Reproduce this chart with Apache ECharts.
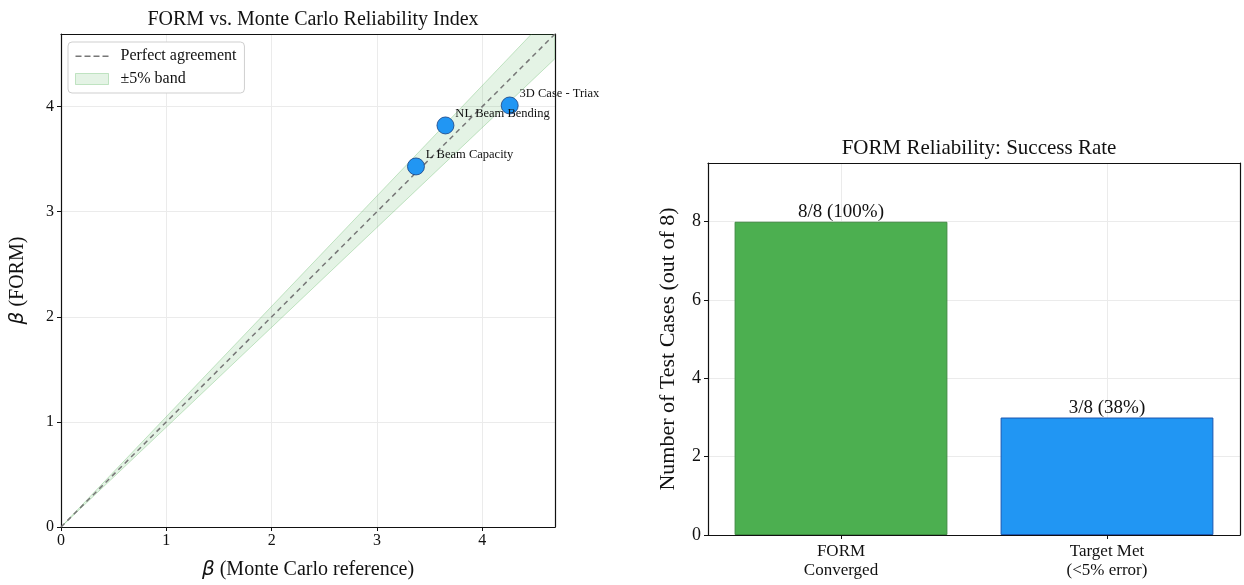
<!DOCTYPE html>
<html>
<head>
<meta charset="utf-8">
<script src="https://cdn.jsdelivr.net/npm/echarts@6/dist/echarts.min.js"></script>
<style>
  html, body { margin: 0; padding: 0; background: #fff; }
  #main { width: 1244px; height: 585px; }
</style>
</head>
<body>
<div id="main"></div>
<script>
// left panel: beta FORM vs beta Monte Carlo
var caseNames = ['L Beam Capacity', 'NL Beam Bending', '3D Case - Triax'];
var betaMC = [3.37, 3.65, 4.26];
var betaFORM = [3.43, 3.82, 4.01];
var axisMax = 4.69;
var refLine = [0, axisMax];
var bandPct = 0.05;

// right panel: success rate
var rateCats = ['FORM\nConverged', 'Target Met\n(<5% error)'];
var rateCounts = [8, 3];
var rateLabels = ['8/8 (100%)', '3/8 (38%)'];
var rateColors = ['#4caf50', '#2196f3'];
var rateEdges = ['#3d8b40', '#1a56b0'];

var FONT = 'Liberation Serif';
var myChart = echarts.init(document.getElementById('main'));

var scatterData = betaMC.map(function (x, i) {
  return { name: caseNames[i], value: [x, betaFORM[i]] };
});

// frame axis (top / right edge of each panel)
function frameAxis(gridIndex, type, pos, extra) {
  var a = {
    gridIndex: gridIndex, type: type, position: pos,
    axisLine: { show: true, onZero: false, lineStyle: { color: '#111', width: 1.2 } },
    axisTick: { show: false }, axisLabel: { show: false }, splitLine: { show: false }
  };
  return Object.assign(a, extra || {});
}

var dashIcon = 'path://M0,0h0.01v0.01h-0.01z M0,5h6v1.5h-6z M9,5h6v1.5h-6z M18,5h6v1.5h-6z M27,5h6v1.5h-6z M32.99,10.99h0.01v0.01h-0.01z';

var option = {
  backgroundColor: '#fff',
  textStyle: { fontFamily: FONT, color: '#111' },
  animation: false,
  title: [
    { text: 'FORM vs. Monte Carlo Reliability Index', left: 308, top: 5, textAlign: 'center',
      textStyle: { fontFamily: FONT, fontSize: 20, fontWeight: 'normal', color: '#111' } },
    { text: 'FORM Reliability: Success Rate', left: 974, top: 133, textAlign: 'center',
      textStyle: { fontFamily: FONT, fontSize: 21, fontWeight: 'normal', color: '#111' } }
  ],
  legend: {
    left: 68, top: 42,
    orient: 'vertical',
    backgroundColor: '#fff',
    borderColor: '#cfcfcf', borderWidth: 1, borderRadius: 4,
    padding: [6, 8, 6, 7],
    itemGap: 7, itemWidth: 33, itemHeight: 11,
    textStyle: { fontFamily: FONT, fontSize: 16, color: '#111', padding: [0, 0, 0, 7] },
    data: [
      { name: 'Perfect agreement', icon: dashIcon, itemStyle: { color: '#777' } },
      { name: '±5% band', icon: 'rect',
        itemStyle: { color: 'rgba(76,175,80,0.15)', borderColor: 'rgba(76,175,80,0.3)', borderWidth: 1 } }
    ]
  },
  grid: [
    { left: 61, right: 689, top: 34, bottom: 56 },
    { left: 708, right: 4, top: 163, bottom: 50 }
  ],
  xAxis: [
    { gridIndex: 0, type: 'value', min: 0, max: axisMax, interval: 1,
      axisLine: { show: true, onZero: false, lineStyle: { color: '#111', width: 1.2 } },
      axisTick: { show: true, length: 4, lineStyle: { color: '#111' } },
      axisLabel: { fontFamily: FONT, fontSize: 16, color: '#111', margin: 6, showMaxLabel: false },
      splitLine: { show: true, lineStyle: { color: '#ebebeb' } },
      name: '{b|β} (Monte Carlo reference)', nameLocation: 'middle', nameGap: 33,
      nameTextStyle: { fontFamily: FONT, fontSize: 20, color: '#111',
        rich: { b: { fontFamily: 'DejaVu Sans', fontStyle: 'italic', fontSize: 20 } } } },
    { gridIndex: 1, type: 'category', data: rateCats, boundaryGap: true,
      axisLine: { show: true, lineStyle: { color: '#111', width: 1.2 } },
      axisTick: { show: true, length: 4, alignWithLabel: true, lineStyle: { color: '#111' } },
      axisLabel: { fontFamily: FONT, fontSize: 17, color: '#111', margin: 7, lineHeight: 19 },
      splitLine: { show: true, alignWithLabel: true, lineStyle: { color: '#ebebeb' } } },
    frameAxis(0, 'value', 'top', { min: 0, max: axisMax }),
    frameAxis(1, 'value', 'top', { min: 0, max: 1 })
  ],
  yAxis: [
    { gridIndex: 0, type: 'value', min: 0, max: axisMax, interval: 1,
      axisLine: { show: true, onZero: false, lineStyle: { color: '#111', width: 1.2 } },
      axisTick: { show: true, length: 4, lineStyle: { color: '#111' } },
      axisLabel: { fontFamily: FONT, fontSize: 16, color: '#111', margin: 7, showMaxLabel: false },
      splitLine: { show: true, lineStyle: { color: '#ebebeb' } },
      name: '{b|β} (FORM)', nameLocation: 'middle', nameGap: 33,
      nameTextStyle: { fontFamily: FONT, fontSize: 20, color: '#111',
        rich: { b: { fontFamily: 'DejaVu Sans', fontStyle: 'italic', fontSize: 20 } } } },
    { gridIndex: 1, type: 'value', min: 0, max: 9.5, interval: 2,
      axisLine: { show: true, onZero: false, lineStyle: { color: '#111', width: 1.2 } },
      axisTick: { show: true, length: 4, lineStyle: { color: '#111' } },
      axisLabel: { fontFamily: FONT, fontSize: 18, color: '#111', margin: 7, showMaxLabel: false },
      splitLine: { show: true, lineStyle: { color: '#ebebeb' } },
      name: 'Number of Test Cases (out of 8)', nameLocation: 'middle', nameGap: 29,
      nameTextStyle: { fontFamily: FONT, fontSize: 22, color: '#111' } },
    frameAxis(0, 'value', 'right', { min: 0, max: axisMax }),
    frameAxis(1, 'value', 'right', { min: 0, max: 1 })
  ],
  series: [
    {
      name: '±5% band', type: 'custom', xAxisIndex: 0, yAxisIndex: 0, clip: true, z: 1,
      data: [refLine],
      renderItem: function (params, api) {
        var a = api.value(0), b = api.value(1);
        var pts = [
          api.coord([a, a * (1 - bandPct)]),
          api.coord([b, b * (1 - bandPct)]),
          api.coord([b, b * (1 + bandPct)]),
          api.coord([a, a * (1 + bandPct)])
        ];
        return { type: 'polygon', shape: { points: pts },
          style: { fill: 'rgba(76,175,80,0.15)', stroke: 'rgba(76,175,80,0.3)', lineWidth: 1 } };
      },
      itemStyle: { color: 'rgba(76,175,80,0.15)' }
    },
    {
      name: 'Perfect agreement', type: 'line', xAxisIndex: 0, yAxisIndex: 0, z: 2,
      data: refLine.map(function (v) { return [v, v]; }),
      symbol: 'none', clip: true,
      lineStyle: { color: '#777', width: 1.5, type: [5, 4] },
      itemStyle: { color: '#777' }
    },
    {
      name: 'cases', type: 'scatter', xAxisIndex: 0, yAxisIndex: 0, z: 3,
      data: scatterData, symbolSize: 17,
      itemStyle: { color: '#2196f3', borderColor: '#163f80', borderWidth: 0.8, opacity: 1 },
      label: { show: true, position: 'right', distance: 1, offset: [0, -12],
        formatter: '{b}', fontFamily: FONT, fontSize: 12.5, color: '#111' }
    },
    {
      name: 'rate', type: 'bar', xAxisIndex: 1, yAxisIndex: 1, barWidth: '80%',
      data: rateCounts.map(function (v, i) {
        return { value: v, itemStyle: { color: rateColors[i], borderColor: rateEdges[i], borderWidth: 1 },
          label: { formatter: rateLabels[i] } };
      }),
      label: { show: true, position: 'top', distance: 0, fontFamily: FONT, fontSize: 19, color: '#111' }
    }
  ]
};

option && myChart.setOption(option);
</script>
</body>
</html>
